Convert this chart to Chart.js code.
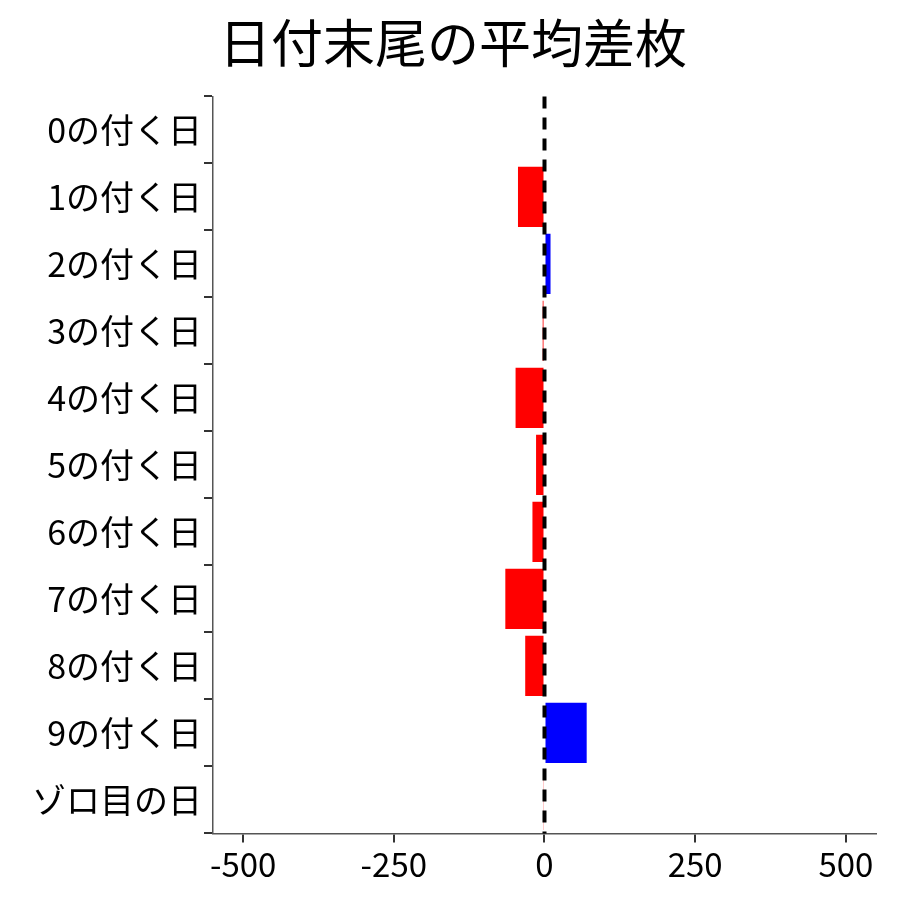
<!DOCTYPE html>
<html><head><meta charset="utf-8">
<script src="https://cdn.jsdelivr.net/npm/chart.js@4"></script>
<style>html,body{margin:0;background:#fff}#wrap{width:900px;height:900px}</style>
</head><body><div id="wrap"><canvas id="c"></canvas></div>
<script>
const categories = ['0の付く日','1の付く日','2の付く日','3の付く日','4の付く日','5の付く日','6の付く日','7の付く日','8の付く日','9の付く日','ゾロ目の日'];
const diffs = [0, -44, 10, -3, -48, -14, -20, -65, -32, 70, -2];
const xTicks = [-500, -250, 0, 250, 500];

const zeroLine = {
  id: 'zeroLine',
  afterDatasetsDraw(chart) {
    const {ctx, chartArea, scales} = chart;
    const x = scales.x.getPixelForValue(0);
    ctx.save();
    ctx.strokeStyle = '#000'; ctx.lineWidth = 4; ctx.setLineDash([12, 9]);
    ctx.beginPath(); ctx.moveTo(x, chartArea.top); ctx.lineTo(x, chartArea.bottom); ctx.stroke();
    ctx.restore();
  }
};

const font = 'Noto Sans CJK JP';
new Chart(document.getElementById('c'), {
  type: 'bar',
  data: { labels: categories, datasets: [{
    data: diffs,
    backgroundColor: diffs.map(v => v > 0 ? '#0000ff' : '#ff0000'),
    barPercentage: 0.9, categoryPercentage: 1.0,
  }]},
  options: {
    indexAxis: 'y', animation: false, responsive: true, maintainAspectRatio: false,
    layout: { padding: { top: 12, right: 24, bottom: 14, left: 30 } },
    scales: {
      x: { type: 'linear', min: -550, max: 550,
           afterBuildTicks: s => { s.ticks = xTicks.map(v => ({ value: v })); },
           ticks: { color: '#000', font: { family: font, size: 33 }, padding: 2 },
           grid: { drawOnChartArea: false, drawTicks: true, tickLength: 9, color: '#333', lineWidth: 2 },
           border: { color: '#555', width: 1.5 } },
      y: { ticks: { color: '#000', font: { family: font, size: 34 }, padding: 2 },
           grid: { drawOnChartArea: false, drawTicks: true, tickLength: 9, color: '#333', lineWidth: 2 },
           border: { color: '#555', width: 1.5 } },
    },
    plugins: {
      legend: { display: false }, tooltip: { enabled: false },
      title: { display: true, text: '日付末尾の平均差枚', color: '#000',
               font: { family: font, size: 52, weight: 'normal' }, padding: { top: 0, bottom: 22 } },
    },
  },
  plugins: [zeroLine],
});
</script></body></html>
